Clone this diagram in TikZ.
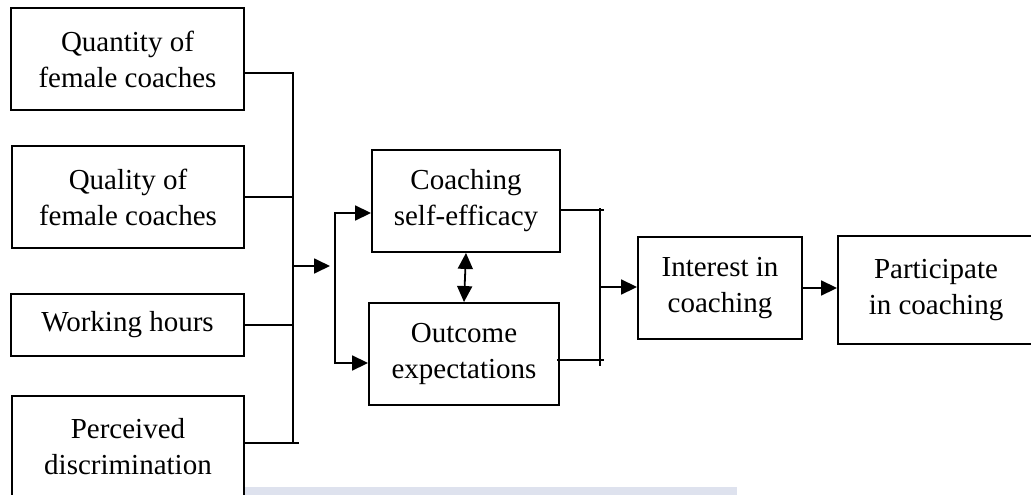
\documentclass[tikz,border=0pt]{standalone}
\usepackage{fontspec}
\setmainfont{Liberation Serif}
\usetikzlibrary{arrows.meta, positioning, calc}
\definecolor{stripgray}{RGB}{222,226,238}
\tikzset{
  factorbox/.style={rectangle, draw=black, line width=1.9pt, inner sep=2pt,
                    minimum height=102pt, align=center,
                    font=\fontsize{29}{36}\selectfont},
  linkline/.style={line width=1.8pt, black},
  linkarrow/.style={linkline, -{Triangle[length=16pt, width=15pt]}},
  botharrow/.style={linkline, {Triangle[length=16pt, width=15pt]}-{Triangle[length=16pt, width=15pt]}},
}

\begin{document}
\begin{tikzpicture}[x=1pt, y=-1pt]
  \useasboundingbox (0,0) rectangle (1031,495);
  \clip (0,0) rectangle (1031,495);
  \fill[stripgray] (244,487) rectangle (737,495);

  % left column
  \node[factorbox, minimum width=233pt] (qty) at (127.5,59)
    {Quantity of\\female coaches};
  \node[factorbox, minimum width=232pt] (qly) at (128,197)
    {Quality of\\female coaches};
  \node[factorbox, minimum width=233pt, minimum height=62pt] (wh) at (127.5,325)
    {Working hours};
  \node[factorbox, minimum width=232pt] (pd) at (128,447)
    {Perceived\\discrimination};

  % middle and right
  \node[factorbox, minimum width=188pt] (cse) at (466,201)
    {Coaching\\self-efficacy};
  \node[factorbox, minimum width=190pt] (oe) at (464,354)
    {Outcome\\expectations};
  \node[factorbox, minimum width=164pt] (int) at (720,288)
    {Interest in\\coaching};
  \node[factorbox, minimum width=196pt, minimum height=108pt] (par) at (936,290)
    {Participate\\in coaching};

  \coordinate (lbus) at (293,266);
  \coordinate (lhead) at (330,266);
  \coordinate (mbus) at (335,266);
  \coordinate (rbus) at (600,287);
  \coordinate (pdlink) at ([yshift=4pt]pd.east);

  \draw[linkline] ([yshift=-14pt]qty.east) -| (lbus) -- (lbus |- pdlink);
  \draw[linkline] (pdlink) -- ++(54,0);
  \draw[linkline] (qly.east) -- (qly.east -| lbus);
  \draw[linkline] (wh.east) -- (wh.east -| lbus);
  \draw[linkarrow] (lbus) -- (lhead);

  \draw[linkarrow] (mbus) |- ([yshift=-12pt]cse.west);
  \draw[linkarrow] (mbus) |- ([yshift=-9pt]oe.west);
  \draw[botharrow] (cse.south) -- (oe.north);

  \draw[linkline] ([yshift=-9pt]cse.east) -- ++(43,0);
  \draw[linkline] ([xshift=-3pt, yshift=-6pt]oe.east) -- ++(47,0);
  \draw[linkline] (rbus |- cse.east) ++(0,7) -- ++(0,158);
  \draw[linkarrow] (rbus) -- (rbus -| int.west);
  \draw[linkarrow] (int.east) -- (int.east -| par.west);
\end{tikzpicture}
\end{document}
